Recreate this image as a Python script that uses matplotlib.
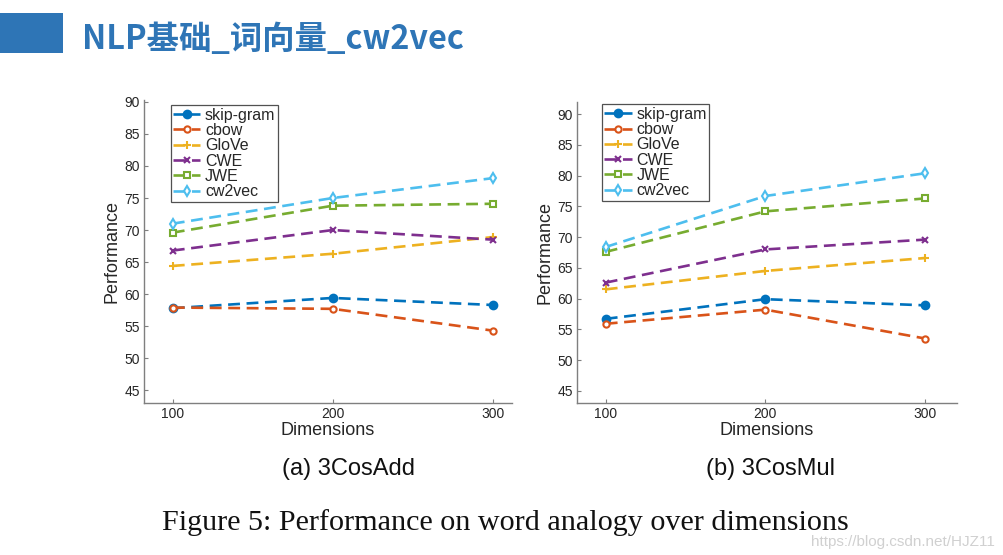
import matplotlib
matplotlib.use("Agg")
import matplotlib.pyplot as plt
from matplotlib.patches import Rectangle

plt.rcParams["font.family"] = ["Liberation Sans", "DejaVu Sans"]

# ---- data ----
dimensions = [100, 200, 300]
series_names = ["skip-gram", "cbow", "GloVe", "CWE", "JWE", "cw2vec"]

add_skipgram = [57.8, 59.4, 58.3]
add_cbow = [57.9, 57.7, 54.3]
add_glove = [64.4, 66.3, 68.9]
add_cwe = [66.8, 70.0, 68.5]
add_jwe = [69.6, 73.8, 74.1]
add_cw2vec = [71.0, 75.0, 78.1]

mul_skipgram = [56.7, 59.9, 58.9]
mul_cbow = [55.9, 58.2, 53.5]
mul_glove = [61.5, 64.5, 66.6]
mul_cwe = [62.6, 68.0, 69.6]
mul_jwe = [67.6, 74.2, 76.3]
mul_cw2vec = [68.4, 76.7, 80.4]

y_ticks = [45, 50, 55, 60, 65, 70, 75, 80, 85, 90]

colors = ["#0072BD", "#D95319", "#EDB120", "#7E2F8E", "#77AC30", "#4DBEEE"]
markers = ["o", "o", "+", "x", "s", "d"]
msizes = [5.5, 4.5, 6, 5, 4, 5]
filled = [True, False, False, False, False, False]

fig = plt.figure(figsize=(10.04, 5.55), dpi=100)
fig.patch.set_facecolor("white")

# header
fig.patches.append(Rectangle((0, 1 - 53 / 555), 63 / 1004, 40 / 555,
                             transform=fig.transFigure, facecolor="#2E75B6",
                             edgecolor="none"))
fig.text(82 / 1004, 1 - 49 / 555, "NLP基础_词向量_cw2vec",
         family=["Noto Sans CJK SC", "DejaVu Sans"], weight="heavy",
         fontsize=23.3, color="#2E75B6", ha="left", va="baseline")


def draw(ax, data, ylim, xlim, leg_anchor):
    for name, vals, c, m, ms, f in zip(series_names, data, colors, markers,
                                       msizes, filled):
        ax.plot(dimensions, vals, color=c, lw=1.9, linestyle=(0, (4.5, 2.5)),
                marker=m, markersize=ms, markeredgewidth=1.5,
                markerfacecolor=c if f else "white", markeredgecolor=c,
                label=name)
    ax.set_xlim(*xlim)
    ax.set_ylim(*ylim)
    ax.set_xticks(dimensions)
    ax.set_yticks(y_ticks)
    for s in ["top", "right"]:
        ax.spines[s].set_visible(False)
    for s in ["left", "bottom"]:
        ax.spines[s].set_color("#7f7f7f")
        ax.spines[s].set_linewidth(1.0)
    ax.tick_params(direction="in", length=3, width=0.8, color="#7f7f7f",
                   labelsize=10, labelcolor="#262626", pad=3)
    ax.set_xlabel("Dimensions", fontsize=13, color="#262626")
    ax.set_ylabel("Performance", fontsize=13, color="#262626")
    ax.xaxis.set_label_coords(0.5, -0.062)
    ax.xaxis.label.set_va("top")
    ax.yaxis.set_label_coords(-0.063, 0.5)
    leg = ax.legend(loc="upper left", bbox_to_anchor=leg_anchor,
                    fontsize=11.5, frameon=True, fancybox=False,
                    handlelength=1.7, handletextpad=0.3, labelspacing=0.02,
                    borderpad=0.15, borderaxespad=0)
    leg.get_frame().set_edgecolor("#262626")
    leg.get_frame().set_linewidth(0.9)
    for t in leg.get_texts():
        t.set_color("#262626")


ax1 = fig.add_axes([144 / 1004, 1 - 403 / 555, 368 / 1004, 303 / 555])
draw(ax1, [add_skipgram, add_cbow, add_glove, add_cwe, add_jwe, add_cw2vec],
     (43, 90.3), (82, 312), (0.0726, 0.983))

ax2 = fig.add_axes([577 / 1004, 1 - 403 / 555, 380 / 1004, 301 / 555])
draw(ax2, [mul_skipgram, mul_cbow, mul_glove, mul_cwe, mul_jwe, mul_cw2vec],
     (43, 92), (82, 320), (0.066, 0.992))

fig.text(348.5 / 1004, 1 - 469 / 555, "(a) 3CosAdd", fontsize=17,
         ha="center", va="center", color="#111111")
fig.text(771 / 1004, 1 - 469 / 555, "(b) 3CosMul", fontsize=17,
         ha="center", va="center", color="#111111")
fig.text(505.5 / 1004, 1 - 530 / 555,
         "Figure 5: Performance on word analogy over dimensions",
         fontsize=21.7, family="Liberation Serif", ha="center", va="baseline",
         color="#111111")
fig.text(995 / 1004, 1 - 542 / 555, "https://blog.csdn.net/HJZ11",
         fontsize=11, ha="right", va="center", color="#d0d0d0")

fig.savefig("out.png", dpi=100)
